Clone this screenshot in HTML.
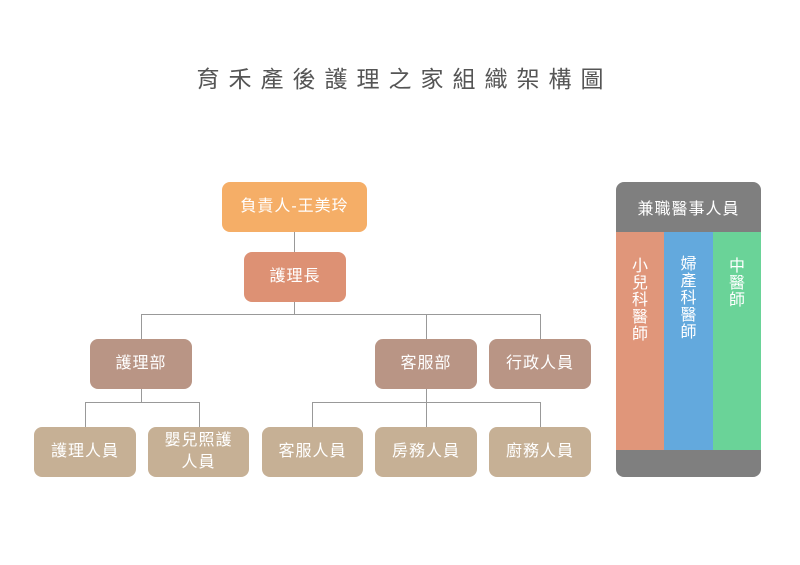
<!DOCTYPE html>
<html><head><meta charset="utf-8"><style>
body{margin:0;width:800px;height:565px;background:#fff;position:relative;font-family:"Liberation Sans","Noto Sans CJK TC",sans-serif;overflow:hidden}
.b{position:absolute;border-radius:8px;color:#fff;font-size:16px;display:flex;align-items:center;justify-content:center;text-align:center;line-height:22px;letter-spacing:1px}
.l{position:absolute;background:#999}
.t{position:absolute;left:0;width:800px;top:60px;text-align:center;font-size:23px;letter-spacing:9px;text-indent:9px;color:#555}
.c{position:absolute;top:232px;height:218px;color:#fff;font-size:16px;line-height:17px;text-align:center;padding-top:26px;box-sizing:border-box}
</style></head><body>
<div class="t">育禾產後護理之家組織架構圖</div>
<div class="l" style="left:294px;top:232px;width:1px;height:20px"></div>
<div class="l" style="left:294px;top:302px;width:1px;height:12px"></div>
<div class="l" style="left:141px;top:314px;width:400px;height:1px"></div>
<div class="l" style="left:141px;top:314px;width:1px;height:25px"></div>
<div class="l" style="left:426px;top:314px;width:1px;height:25px"></div>
<div class="l" style="left:540px;top:314px;width:1px;height:25px"></div>
<div class="l" style="left:141px;top:389px;width:1px;height:13px"></div>
<div class="l" style="left:85px;top:402px;width:114px;height:1px"></div>
<div class="l" style="left:85px;top:402px;width:1px;height:25px"></div>
<div class="l" style="left:199px;top:402px;width:1px;height:25px"></div>
<div class="l" style="left:426px;top:389px;width:1px;height:38px"></div>
<div class="l" style="left:312px;top:402px;width:229px;height:1px"></div>
<div class="l" style="left:312px;top:402px;width:1px;height:25px"></div>
<div class="l" style="left:540px;top:402px;width:1px;height:25px"></div>
<div class="b" style="left:222px;top:182px;width:145px;height:50px;background:#f5ae67">負責人-王美玲</div>
<div class="b" style="left:244px;top:252px;width:102px;height:50px;background:#dd9174">護理長</div>
<div class="b" style="left:90px;top:339px;width:102px;height:50px;background:#b99585">護理部</div>
<div class="b" style="left:375px;top:339px;width:102px;height:50px;background:#b99585">客服部</div>
<div class="b" style="left:489px;top:339px;width:102px;height:50px;background:#b99585">行政人員</div>
<div class="b" style="left:34px;top:427px;width:102px;height:50px;background:#c6b095">護理人員</div>
<div class="b" style="left:148px;top:427px;width:101px;height:50px;background:#c6b095">嬰兒照護<br>人員</div>
<div class="b" style="left:262px;top:427px;width:101px;height:50px;background:#c6b095">客服人員</div>
<div class="b" style="left:375px;top:427px;width:102px;height:50px;background:#c6b095">房務人員</div>
<div class="b" style="left:489px;top:427px;width:102px;height:50px;background:#c6b095">廚務人員</div>
<div style="position:absolute;left:616px;top:182px;width:145px;height:295px;border-radius:8px;background:#7f7f7f;overflow:hidden">
<div style="height:50px;color:#fff;font-size:16px;display:flex;align-items:center;justify-content:center;letter-spacing:1px">兼職醫事人員</div>
</div>
<div class="c" style="left:616px;width:48px;background:#e0967a">小<br>兒<br>科<br>醫<br>師</div>
<div class="c" style="left:664px;width:49px;background:#63a9dd;padding-top:24px">婦<br>產<br>科<br>醫<br>師</div>
<div class="c" style="left:713px;width:48px;background:#6ad398">中<br>醫<br>師</div>
</body></html>
